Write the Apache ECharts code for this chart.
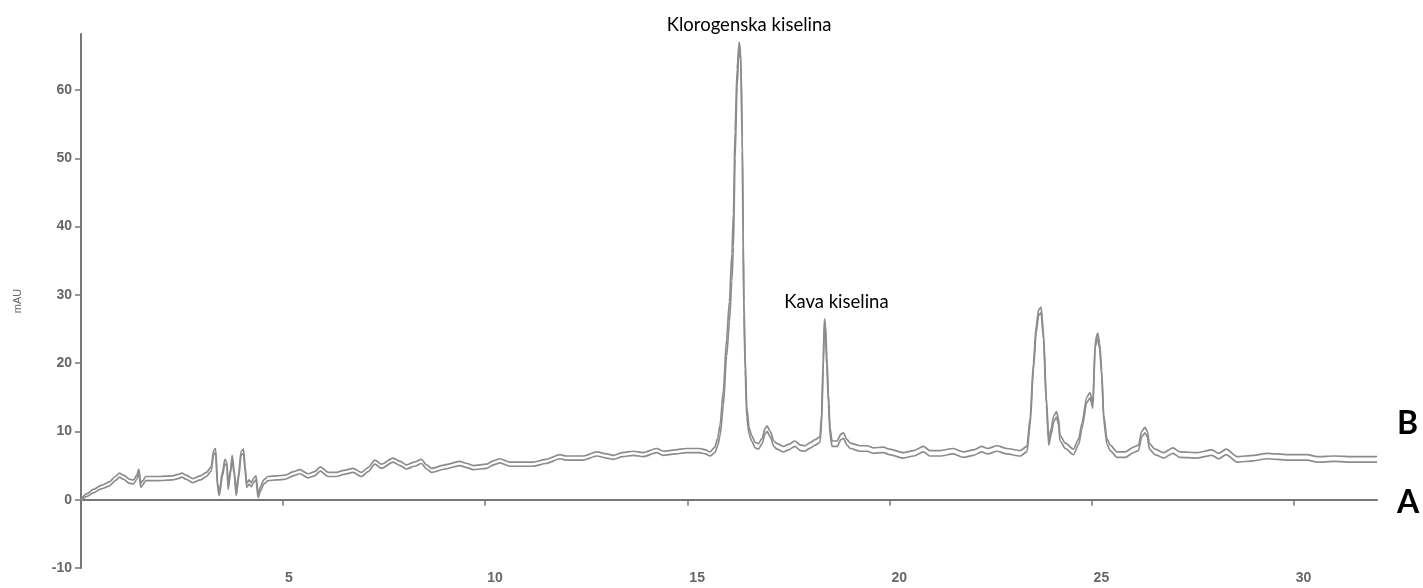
<!DOCTYPE html>
<html>
<head>
<meta charset="utf-8">
<script src="https://cdn.jsdelivr.net/npm/echarts@6/dist/echarts.min.js"></script>
<style>
html,body{margin:0;padding:0;background:#fff;}
#chart{width:1423px;height:588px;}
</style>
</head>
<body>
<div id="chart"></div>
<script>
// Retention time (min)
const timeMin = [
0.00,0.15,0.30,0.50,0.70,0.85,0.95,1.05,1.20,1.30,1.38,1.43,1.48,1.53,1.60,1.90,2.27,2.40,2.50,2.60,
2.77,2.95,3.10,3.22,3.28,3.33,3.38,3.42,3.50,3.56,3.61,3.64,3.70,3.74,3.79,3.84,3.90,3.96,4.02,4.06,
4.10,4.16,4.21,4.28,4.33,4.38,4.44,4.52,4.63,4.85,5.05,5.25,5.41,5.62,5.78,5.92,6.12,6.32,6.50,6.73,
6.94,7.10,7.27,7.43,7.72,7.90,8.05,8.25,8.42,8.55,8.67,9.00,9.37,9.55,9.70,10.03,10.20,10.36,10.61,11.19,
11.50,11.85,12.00,12.42,12.76,13.00,13.17,13.40,13.66,13.91,14.24,14.40,14.70,14.98,15.30,15.45,15.56,15.68,15.75,15.81,
15.89,15.97,16.04,16.10,16.14,16.18,16.23,16.28,16.32,16.36,16.38,16.40,16.43,16.47,16.53,16.59,16.68,16.76,16.85,16.92,
16.97,17.05,17.14,17.22,17.37,17.50,17.66,17.80,17.90,18.05,18.16,18.28,18.32,18.36,18.39,18.42,18.45,18.49,18.53,18.58,
18.70,18.80,18.86,18.95,19.03,19.27,19.45,19.60,19.85,20.00,20.34,20.60,20.84,21.00,21.25,21.58,21.83,22.08,22.28,22.43,
22.66,22.90,23.23,23.40,23.48,23.56,23.63,23.69,23.75,23.81,23.88,23.94,24.00,24.06,24.13,24.18,24.22,24.35,24.55,24.68,
24.76,24.88,24.96,25.03,25.09,25.15,25.20,25.25,25.30,25.38,25.46,25.63,25.83,26.04,26.16,26.24,26.32,26.38,26.43,26.57,
26.78,27.01,27.19,27.61,27.98,28.14,28.33,28.60,29.00,29.34,29.84,30.33,30.58,31.00,31.50,32.06
];
// Trace B (mAU)
const traceB = [
0.1,0.9,1.5,2.1,2.6,3.4,3.9,3.6,3.0,2.9,3.6,4.5,2.4,2.8,3.4,3.4,3.5,3.7,3.9,3.6,
3.1,3.5,4.0,4.8,7.2,7.5,2.3,1.2,4.1,5.9,5.5,2.1,4.5,6.5,4.3,1.2,3.8,7.1,7.4,4.8,
2.4,2.9,2.5,3.2,3.5,0.9,1.9,2.9,3.4,3.5,3.6,4.1,4.4,3.8,4.1,4.8,4.0,4.0,4.3,4.6,
4.0,4.7,5.8,5.2,6.1,5.6,5.1,5.5,5.9,5.1,4.6,5.1,5.6,5.3,5.0,5.2,5.7,6.0,5.5,5.5,
5.9,6.6,6.4,6.4,7.0,6.7,6.5,6.9,7.1,6.9,7.5,7.1,7.3,7.5,7.5,7.3,7.0,7.7,9.0,11.0,
16.0,23.5,29.0,36.0,42.0,54.0,63.0,67.0,65.5,53.0,39.0,29.0,21.0,13.5,10.5,9.4,8.4,8.2,9.0,10.4,
10.8,10.0,8.6,8.2,7.8,8.1,8.6,8.0,7.9,8.4,8.8,9.2,12.5,20.5,26.5,25.5,21.0,15.5,10.5,8.6,
8.6,9.6,9.8,8.8,8.3,7.9,7.9,7.6,7.7,7.4,6.9,7.2,7.8,7.2,7.2,7.5,7.0,7.3,7.8,7.5,
7.9,7.5,7.2,7.8,12.0,20.0,25.5,27.8,28.2,24.5,15.0,8.8,10.4,12.2,12.9,11.9,9.4,8.3,7.4,8.9,
11.2,15.0,15.7,14.2,23.2,24.4,22.9,18.9,12.4,8.9,8.0,7.0,7.0,7.7,8.0,10.0,10.6,10.0,8.2,7.4,
6.9,7.6,7.0,6.9,7.3,6.8,7.4,6.3,6.5,6.8,6.6,6.6,6.3,6.4,6.3,6.3
];
// Trace A (mAU)
const traceA = [
-0.1,0.5,1.0,1.6,2.0,2.8,3.3,3.0,2.4,2.3,3.0,3.9,1.8,2.2,2.8,2.8,2.9,3.1,3.3,3.0,
2.5,2.9,3.4,4.2,6.6,6.9,1.7,0.6,3.5,5.3,4.9,1.5,3.9,5.9,3.7,0.6,3.2,6.5,6.8,4.2,
1.8,2.3,1.9,2.6,2.9,0.3,1.3,2.3,2.8,2.9,3.0,3.5,3.8,3.2,3.5,4.2,3.4,3.4,3.7,4.0,
3.4,4.1,5.2,4.6,5.5,5.0,4.5,4.9,5.3,4.5,4.0,4.5,5.0,4.7,4.4,4.6,5.1,5.4,4.9,4.9,
5.3,6.0,5.8,5.8,6.4,6.1,5.9,6.3,6.5,6.3,6.9,6.5,6.7,6.9,6.9,6.7,6.4,6.9,7.9,9.4,
13.8,21.0,26.0,32.0,37.0,50.0,60.5,66.0,64.5,51.0,37.0,27.0,19.0,12.0,9.5,8.6,7.6,7.4,8.2,9.6,
10.0,9.2,7.8,7.4,7.0,7.3,7.8,7.2,7.1,7.6,8.0,8.4,11.0,19.0,25.5,24.0,19.5,14.0,9.5,7.8,
7.8,8.8,9.0,8.0,7.5,7.1,7.1,6.8,6.9,6.6,6.1,6.4,7.0,6.4,6.4,6.7,6.2,6.5,7.0,6.7,
7.1,6.7,6.4,7.0,11.0,19.0,24.5,27.0,27.4,23.5,14.0,8.0,9.6,11.4,12.1,11.1,8.6,7.5,6.6,8.1,
10.4,14.2,14.9,13.4,22.4,23.6,22.1,18.1,11.6,8.1,7.2,6.2,6.2,6.9,7.2,9.2,9.8,9.2,7.4,6.6,
6.1,6.8,6.2,6.1,6.5,6.0,6.6,5.5,5.7,6.0,5.8,5.8,5.5,5.6,5.5,5.5
];
// Axis ticks
const xTickValues = [0,5,10,15,20,25,30];
const xLabelValues = [5,10,15,20,25,30];
const yTickValues = [-10,0,10,20,30,40,50,60];
// Peak annotations
const peakNames = ['Klorogenska kiselina','Kava kiselina'];
const peakTimes = [16.28,18.39];
const peakHeights = [67.0,26.5];
const traceNames = ['B','A'];

const toPairs = (ys) => timeMin.map((t,i)=>[t,ys[i]]);

const chart = echarts.init(document.getElementById('chart'), null, {renderer:'canvas'});
const axisGray = '#777777';
const lblGray = '#666666';
const lineGray = '#8c8c8c';

const option = {
  backgroundColor:'#ffffff',
  animation:false,
  grid:{left:81, right:46, top:34, bottom:20, containLabel:false},
  xAxis:{
    type:'value', min:0, max:32.06,
    axisLine:{show:true, lineStyle:{color:axisGray, width:2}},
    axisTick:{show:true, length:6, lineStyle:{color:axisGray, width:1.5}, customValues:xTickValues},
    axisLabel:{show:true, customValues:xLabelValues, color:lblGray, fontSize:14, fontWeight:'bold',
      fontFamily:'Liberation Sans', align:'left', padding:[0,0,0,2], margin:3},
    splitLine:{show:false}
  },
  yAxis:{
    type:'value', min:-10, max:68.2,
    name:'mAU', nameLocation:'middle', nameGap:58, nameRotate:90,
    nameTextStyle:{color:lblGray, fontSize:11, fontFamily:'Liberation Sans'},
    axisLine:{show:true, lineStyle:{color:axisGray, width:2}},
    axisTick:{show:true, length:6, lineStyle:{color:axisGray, width:1.5}, customValues:yTickValues},
    axisLabel:{show:true, customValues:yTickValues, color:lblGray, fontSize:14, fontWeight:'bold',
      fontFamily:'Liberation Sans', margin:9},
    splitLine:{show:false}
  },
  series:[
    {
      name:'B', type:'line', data:toPairs(traceB), showSymbol:false, smooth:0.25, smoothMonotone:'x',
      lineStyle:{color:lineGray, width:1.7}, z:3,
      markPoint:{
        symbol:'circle', symbolSize:1, itemStyle:{color:'rgba(0,0,0,0)'},
        data:[
          {coord:[peakTimes[0],peakHeights[0]], value:peakNames[0],
           label:{offset:[10,-17]}},
          {coord:[peakTimes[1],peakHeights[1]], value:peakNames[1],
           label:{offset:[12,-17]}}
        ],
        label:{show:true, position:'inside', formatter:(p)=>p.value, color:'#000',
          fontSize:18.5, fontFamily:'Lato'}
      }
    },
    {
      name:'A', type:'line', data:toPairs(traceA), showSymbol:false, smooth:0.25, smoothMonotone:'x',
      lineStyle:{color:lineGray, width:1.7}, z:2
    }
  ],
  graphic:[
    {type:'text', left:1397, top:408, style:{text:traceNames[0], fill:'#000', font:'bold 32px Lato'}},
    {type:'text', left:1397, top:487, style:{text:traceNames[1], fill:'#000', font:'bold 32px Lato'}}
  ]
};
chart.setOption(option);
</script>
</body>
</html>
